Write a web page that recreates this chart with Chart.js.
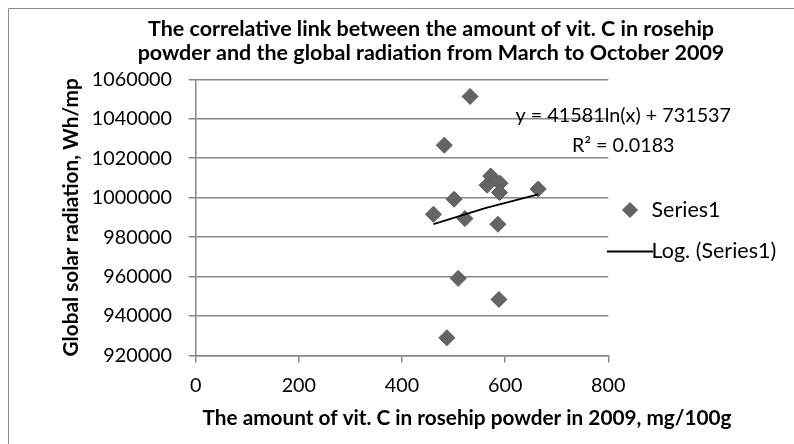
<!DOCTYPE html>
<html>
<head>
<meta charset="utf-8">
<title>Vit. C in rosehip powder vs global radiation 2009</title>
<script src="https://cdn.jsdelivr.net/npm/chart.js@4.4.1/dist/chart.umd.min.js"></script>
<style>
  html, body { margin: 0; padding: 0; background: #ffffff; }
  #box { position: relative; width: 794px; height: 444px; }
  canvas { display: block; }
</style>
</head>
<body>
<div id="box"><canvas id="chart" width="794" height="444"></canvas></div>
<script>
// ---------------- data ----------------
const chartTitle = [
  'The correlative link between the amount of vit. C in rosehip',
  'powder and the global radiation from March to October 2009'
];
const xAxisTitle = 'The amount of vit. C in rosehip powder in 2009, mg/100g';
const yAxisTitle = 'Global solar radiation, Wh/mp';
const seriesLabel = 'Series1';
const trendLabel = 'Log. (Series1)';
const trendEquation = ['y = 41581ln(x) + 731537', 'R\u00B2 = 0.0183'];

const vitaminC  = [532, 482, 572, 590, 565, 589, 664, 501, 461, 522, 586, 509, 588, 487];
const radiation = [1051300, 1026600, 1011000, 1007300, 1006300, 1002600, 1004400,
                   999200, 991600, 989400, 986500, 959100, 948400, 929000];

const trendX = [461, 563, 664];
const trendY = [986600, 994800, 1001700];

const xTickValues = [0, 200, 400, 600, 800];
const yTickValues = [920000, 940000, 960000, 980000, 1000000, 1020000, 1040000, 1060000];

// ---------------- style / layout ----------------
const FONT = 'Lato, "Open Sans", sans-serif';
const AREA = { left: 195.7, right: 608.3, top: 79.3, bottom: 355.5 };
const LINE_GRAY = '#878787';

const mctx = document.createElement('canvas').getContext('2d');
function fitSize(text, weight, width) {
  mctx.font = weight + ' 100px ' + FONT;
  return Math.round(100 * width / mctx.measureText(text).width * 4) / 4;
}
const titleSize = fitSize(chartTitle[1], 'bold', 590);
const axisTitleSize = fitSize(xAxisTitle, 'bold', 529);
const tickSize = fitSize('1060000', 'normal', 80);
const legendSize = fitSize(trendLabel, 'normal', 125);
const eqSize = fitSize(trendEquation[1], 'normal', 103);

const TITLE_LH = 1.1;
const titleLinePx = titleSize * TITLE_LH;
const layoutPadding = { left: 9, right: 0, top: 8, bottom: 0 };
const titlePadTop = 29 - layoutPadding.top - titleLinePx / 2;
const titlePadBottom = AREA.top - layoutPadding.top - titlePadTop - 2 * titleLinePx;

const axisLinePx = axisTitleSize * 1.2;
const X_TITLE_CY = 418;
const subPadBottom = 444 - X_TITLE_CY - axisLinePx / 2;
const xScaleHeight = (X_TITLE_CY - axisLinePx / 2) - AREA.bottom;
const Y_TITLE_CX = 71;

Chart.defaults.font.family = FONT;
Chart.defaults.color = '#000000';

// legend marker for the trend line (a short black stroke)
const lineMarker = document.createElement('canvas');
lineMarker.width = 46; lineMarker.height = 4;
(function () { const c = lineMarker.getContext('2d'); c.fillStyle = '#000'; c.fillRect(0, 1, 46, 2); })();

const framePlugin = {
  id: 'frame',
  beforeDraw(chart) {
    const c = chart.ctx;
    c.save();
    c.fillStyle = '#ffffff';
    c.fillRect(0, 0, chart.width, chart.height);
    c.strokeStyle = '#8c8c8c';
    c.lineWidth = 1;
    c.beginPath();
    c.moveTo(8.5, chart.height);
    c.lineTo(8.5, 8.5);
    c.lineTo(chart.width, 8.5);
    c.stroke();
    c.restore();
  }
};

const placeBoxesPlugin = {
  id: 'placeBoxes',
  afterLayout(chart) {
    const t = chart.titleBlock;
    if (t) { const dx = 431 - (t.left + t.right) / 2; t.left += dx; t.right += dx; }
    const s = chart.boxes.find(b => b !== t && b.options && b.options.text === xAxisTitle);
    if (s) { const dx = 467 - (s.left + s.right) / 2; s.left += dx; s.right += dx; }
    const lg = chart.legend;
    if (lg && lg.columnSizes && lg.columnSizes.length) {
      const pad = lg.options.labels.padding;
      const dx = (630 - legendSize / 2) - (lg.left + pad);
      lg.left += dx; lg.right += dx;
      const curY = (lg.top + pad + lg.bottom - lg.columnSizes[0].height) / 2;
      const dy = (210 - legendSize / 2) - curY;
      lg.top += dy; lg.bottom += dy;
    }
  }
};

const equationPlugin = {
  id: 'equationLabel',
  afterDatasetsDraw(chart) {
    const { ctx, chartArea, scales } = chart;
    const y0 = scales.y.getPixelForValue(yTickValues[6]) - 3;
    ctx.save();
    ctx.font = 'normal ' + eqSize + 'px ' + FONT;
    ctx.fillStyle = '#000000';
    ctx.textAlign = 'center';
    ctx.textBaseline = 'middle';
    const cx = chartArea.right + 15;
    ctx.fillText(trendEquation[0], cx, y0);
    ctx.fillText(trendEquation[1], cx, y0 + 30);
    ctx.restore();
  }
};

const config = {
  type: 'scatter',
  data: {
    datasets: [
      {
        label: seriesLabel,
        data: vitaminC.map((x, i) => ({ x: x, y: radiation[i] })),
        pointStyle: 'rectRot',
        pointRadius: 8,
        pointHoverRadius: 8,
        backgroundColor: '#646464',
        borderColor: '#5a5a5a',
        borderWidth: 1,
        order: 1
      },
      {
        label: trendLabel,
        data: trendX.map((x, i) => ({ x: x, y: trendY[i] })),
        showLine: true,
        borderColor: '#000000',
        borderWidth: 1.75,
        backgroundColor: 'transparent',
        pointRadius: 0,
        pointHoverRadius: 0,
        pointStyle: lineMarker,
        tension: 0,
        order: 0
      }
    ]
  },
  options: {
    responsive: false,
    animation: false,
    events: [],
    layout: { padding: layoutPadding },
    plugins: {
      title: {
        display: true,
        text: chartTitle,
        color: '#000000',
        font: { family: FONT, size: titleSize, weight: 'bold', lineHeight: TITLE_LH },
        padding: { top: titlePadTop, bottom: titlePadBottom }
      },
      subtitle: {
        display: true,
        position: 'bottom',
        text: xAxisTitle,
        color: '#000000',
        font: { family: FONT, size: axisTitleSize, weight: 'bold', lineHeight: 1.2 },
        padding: { top: 0, bottom: subPadBottom }
      },
      legend: {
        display: true,
        position: 'right',
        maxWidth: 794 - AREA.right,
        labels: {
          usePointStyle: true,
          boxHeight: 10.6,
          padding: 20,
          color: '#000000',
          font: { family: FONT, size: legendSize },
          sort: (a, b) => a.datasetIndex - b.datasetIndex
        }
      },
      tooltip: { enabled: false }
    },
    scales: {
      x: {
        type: 'linear',
        min: xTickValues[0],
        max: xTickValues[xTickValues.length - 1],
        afterBuildTicks: s => { s.ticks = xTickValues.map(v => ({ value: v })); },
        afterFit: s => { s.height = xScaleHeight; },
        grid: { display: true, drawOnChartArea: false, drawTicks: true, tickLength: 7, color: LINE_GRAY, lineWidth: 1.5 },
        border: { display: true, color: LINE_GRAY, width: 1.5 },
        ticks: {
          padding: 10.8,
          color: '#000000',
          font: { family: FONT, size: tickSize },
          maxRotation: 0,
          callback: v => String(v)
        }
      },
      y: {
        type: 'linear',
        min: yTickValues[0],
        max: yTickValues[yTickValues.length - 1],
        afterBuildTicks: s => { s.ticks = yTickValues.map(v => ({ value: v })); },
        afterFit: s => { s.width = AREA.left - layoutPadding.left; },
        grid: { display: true, drawOnChartArea: true, drawTicks: true, tickLength: 7, color: LINE_GRAY, lineWidth: 1.5 },
        border: { display: true, color: LINE_GRAY, width: 1.5 },
        ticks: {
          padding: 16.7,
          color: '#000000',
          font: { family: FONT, size: tickSize },
          callback: v => String(v)
        },
        title: {
          display: true,
          text: yAxisTitle,
          color: '#000000',
          font: { family: FONT, size: axisTitleSize, weight: 'bold', lineHeight: 1.2 },
          padding: { top: Y_TITLE_CX - layoutPadding.left - axisLinePx / 2, bottom: 0 }
        }
      }
    }
  },
  plugins: [framePlugin, placeBoxesPlugin, equationPlugin]
};

const chart = new Chart(document.getElementById('chart').getContext('2d'), config);
const dr = chart.chartArea.right - AREA.right;
if (Math.abs(dr) > 0.05) {
  layoutPadding.right = Math.max(0, layoutPadding.right + dr);
  chart.update('none');
}
</script>
</body>
</html>
